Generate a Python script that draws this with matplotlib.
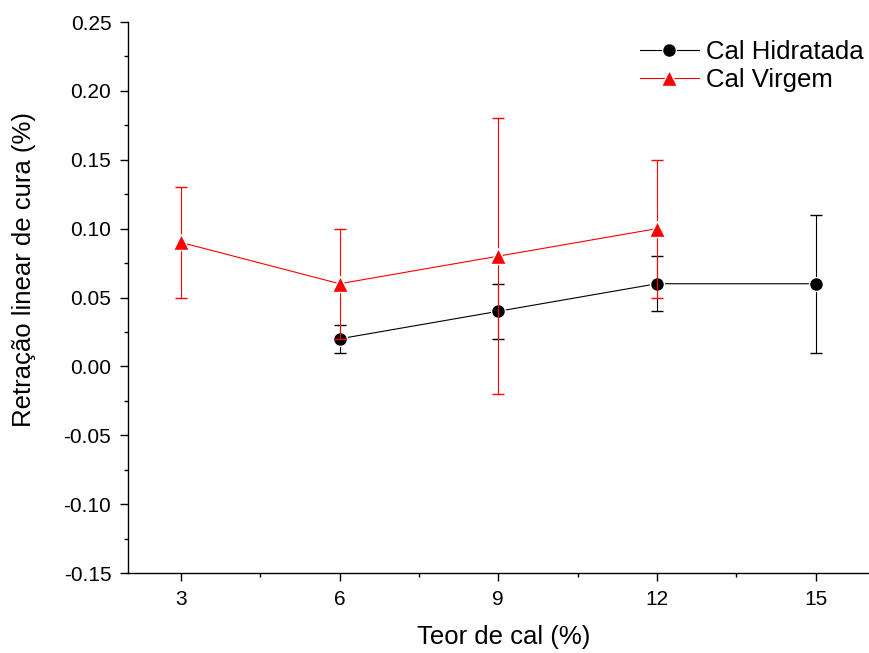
import matplotlib
matplotlib.use('Agg')
from matplotlib import pyplot as plt
from matplotlib.ticker import MultipleLocator, FormatStrFormatter

plt.rcParams['font.family'] = ['Liberation Sans', 'DejaVu Sans']

# Cal Hidratada
x_hid = [6, 9, 12, 15]
y_hid = [0.02, 0.04, 0.06, 0.06]
err_hid = [0.01, 0.02, 0.02, 0.05]

# Cal Virgem
x_vir = [3, 6, 9, 12]
y_vir = [0.09, 0.06, 0.08, 0.10]
err_vir = [0.04, 0.04, 0.10, 0.05]

fig = plt.figure(figsize=(8.69, 6.53), dpi=100)
ax = fig.add_axes([0.1473, 0.1225, 0.852, 0.8438])

ax.errorbar(x_hid, y_hid, yerr=err_hid, color='black', marker='o', markersize=10,
            markeredgecolor='white', markeredgewidth=1.0,
            linewidth=0.8, elinewidth=0.8, capsize=4, capthick=0.8,
            label='Cal Hidratada', zorder=3)
ax.errorbar(x_vir, y_vir, yerr=err_vir, color='red', marker='^', markersize=11.5,
            markeredgecolor='white', markeredgewidth=1.0,
            linewidth=0.8, elinewidth=0.8, capsize=4, capthick=0.8,
            label='Cal Virgem', zorder=4)

ax.set_xlim(2, 16)
ax.set_ylim(-0.15, 0.25)
ax.xaxis.set_major_locator(MultipleLocator(3))
ax.xaxis.set_minor_locator(MultipleLocator(1.5))
ax.yaxis.set_major_locator(MultipleLocator(0.05))
ax.yaxis.set_minor_locator(MultipleLocator(0.025))
ax.yaxis.set_major_formatter(FormatStrFormatter('%.2f'))

ax.spines['top'].set_visible(False)
ax.spines['right'].set_visible(False)
ax.spines['left'].set_linewidth(1.0)
ax.spines['bottom'].set_linewidth(1.0)
ax.tick_params(which='major', direction='out', length=6, width=1.0, labelsize=15, pad=6)
ax.tick_params(which='minor', direction='out', length=3, width=1.0)

ax.set_xlabel('Teor de cal (%)', fontsize=18.5, va='center', ha='center')
ax.set_ylabel('Retração linear de cura (%)', fontsize=18.5, va='center', ha='center')
ax.xaxis.set_label_coords(0.507, -0.116)
ax.yaxis.set_label_coords(-0.1405, 0.55)

# legend handles without the error bars
handles, labels = ax.get_legend_handles_labels()
handles = [h[0] for h in handles]
ax.legend(handles, labels, loc='upper right', frameon=False, fontsize=18.5,
          handlelength=2.3, handletextpad=0.3, labelspacing=0.15,
          borderaxespad=0.2, bbox_to_anchor=(1.015, 0.995))

fig.savefig('out.png', dpi=100)
